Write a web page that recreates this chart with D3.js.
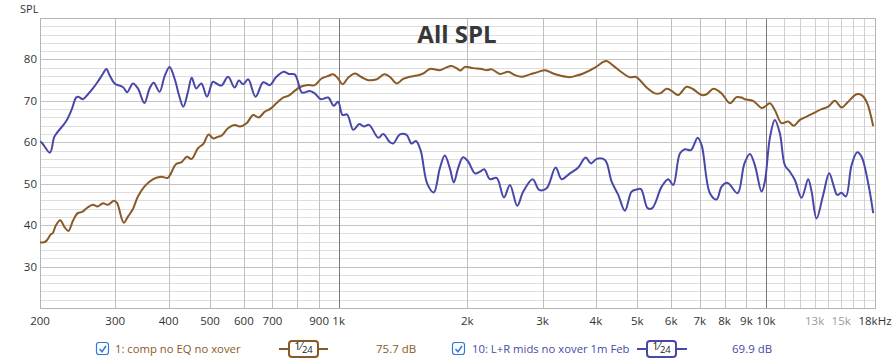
<!DOCTYPE html>
<html>
<head>
<meta charset="utf-8">
<script src="https://cdn.jsdelivr.net/npm/d3@7/dist/d3.min.js"></script>
<style>
  html, body { margin: 0; padding: 0; background: #fff; }
  svg { display: block; font-family: "Open Sans", "Noto Sans", sans-serif; }
</style>
</head>
<body>
<svg id="chart" width="894" height="360"></svg>
<script>
// ---- data ----
const title = "All SPL";
const yLabel = "SPL";
const yTicks = [30, 40, 50, 60, 70, 80];
const xTickValues = [200, 300, 400, 500, 600, 700, 900, 1000, 2000, 3000, 4000, 5000, 6000, 7000, 8000, 9000, 10000, 13000, 15000, 18000];
const xTickLabels = ["200", "300", "400", "500", "600", "700", "900", "1k", "2k", "3k", "4k", "5k", "6k", "7k", "8k", "9k", "10k", "13k", "15k", "18kHz"];
const xTickDim = [13000, 15000];
const xGrid = [300, 400, 500, 600, 700, 800, 900, 1000, 2000, 3000, 4000, 5000, 6000, 7000, 8000, 9000, 10000, 11000, 12000, 13000, 14000, 15000, 16000, 17000];
const xGridDark = [1000, 10000];

const seriesNames = ["1: comp no EQ no xover", "10: L+R mids no xover 1m Feb"];
const seriesValues = ["75.7 dB", "69.9 dB"];
const seriesColors = ["#8a5a26", "#4848a8"];

const freqComp = [200, 203, 207, 212, 214, 218, 223, 228, 233, 239, 245, 251, 258, 266, 273, 281, 288, 298, 303, 314, 321, 330, 339, 351, 368, 384, 398, 405, 416, 429, 441, 453, 468, 483, 496, 509, 521, 532, 551, 571, 587, 609, 631, 650, 672, 690, 715, 741, 762, 789, 815, 848, 879, 912, 945, 970, 997, 1021, 1053, 1092, 1132, 1173, 1228, 1279, 1318, 1367, 1416, 1468, 1522, 1577, 1635, 1725, 1772, 1837, 1887, 1928, 1975, 2065, 2161, 2220, 2281, 2385, 2494, 2586, 2681, 2804, 2932, 3040, 3179, 3296, 3478, 3606, 3736, 3979, 4161, 4238, 4392, 4595, 4805, 4955, 5071, 5257, 5498, 5649, 5856, 6016, 6233, 6523, 6759, 7072, 7265, 7528, 7877, 8237, 8536, 8769, 8927, 9335, 9767, 9942, 10213, 10492, 10878, 11272, 11623, 12008, 12449, 12900, 13498, 13987, 14501, 15034, 15579, 16300, 16745, 17203, 17826];
const splComp = [35.9, 35.8, 36.2, 37.8, 38.0, 40.0, 41.2, 39.6, 38.6, 41.1, 42.9, 43.2, 44.2, 44.9, 44.5, 45.3, 44.9, 45.9, 45.3, 40.6, 42.0, 43.9, 46.9, 49.3, 51.1, 51.7, 51.4, 52.5, 54.7, 55.2, 56.5, 56.0, 58.5, 59.7, 61.9, 60.9, 61.3, 61.6, 63.4, 64.2, 63.8, 64.6, 66.6, 66.0, 67.4, 68.0, 69.4, 70.8, 71.2, 72.4, 73.4, 73.8, 73.8, 75.4, 76.0, 76.4, 75.4, 74.0, 75.6, 76.6, 75.7, 75.0, 75.2, 76.4, 75.8, 74.2, 75.3, 75.8, 76.1, 76.6, 77.7, 77.4, 77.9, 78.4, 77.9, 77.3, 78.2, 77.9, 77.7, 77.4, 77.6, 76.5, 77.0, 76.2, 75.8, 76.4, 77.0, 77.4, 76.6, 76.1, 75.7, 76.1, 76.6, 78.0, 79.4, 79.6, 78.5, 76.9, 75.7, 75.8, 75.0, 73.2, 71.8, 71.8, 72.9, 72.4, 71.4, 73.4, 72.8, 71.4, 71.6, 72.9, 71.8, 69.4, 70.9, 70.8, 70.4, 70.0, 68.3, 68.6, 69.4, 67.8, 64.6, 65.0, 64.0, 65.4, 66.2, 67.0, 68.0, 68.6, 70.0, 68.4, 69.8, 71.6, 71.4, 69.8, 63.9];

const freqMids = [200, 202, 211, 216, 220, 230, 237, 243, 246, 252, 259, 266, 273, 281, 286, 291, 299, 313, 320, 330, 339, 351, 361, 369, 381, 391, 402, 413, 424, 433, 444, 453, 464, 477, 492, 508, 521, 532, 551, 571, 584, 598, 614, 639, 666, 690, 715, 744, 764, 789, 801, 821, 856, 879, 908, 945, 974, 997, 1021, 1047, 1082, 1117, 1146, 1178, 1238, 1272, 1318, 1342, 1391, 1442, 1481, 1516, 1555, 1611, 1670, 1725, 1772, 1821, 1860, 1903, 1955, 2011, 2084, 2141, 2191, 2260, 2343, 2437, 2517, 2618, 2704, 2845, 2948, 3068, 3220, 3326, 3478, 3637, 3785, 3894, 4016, 4200, 4354, 4512, 4678, 4849, 4982, 5099, 5286, 5419, 5701, 5907, 6068, 6290, 6463, 6676, 6921, 7072, 7395, 7667, 7877, 8136, 8582, 8900, 9171, 9421, 9767, 9942, 10213, 10492, 10779, 11073, 11376, 11686, 12119, 12557, 12789, 13139, 13614, 14063, 14423, 14682, 15034, 15387, 15866, 16353, 16745, 17352, 17826];
const splMids = [60.2, 59.9, 57.5, 61.3, 62.5, 65.0, 67.8, 70.8, 71.0, 70.4, 71.6, 73.0, 74.6, 76.6, 77.7, 76.2, 74.2, 73.3, 72.1, 74.2, 73.0, 69.5, 73.0, 74.4, 72.2, 75.8, 78.2, 75.4, 71.0, 68.6, 72.2, 75.6, 73.0, 74.2, 71.0, 74.6, 74.0, 73.7, 75.8, 73.2, 74.9, 74.0, 75.2, 71.0, 74.5, 73.8, 75.8, 77.0, 76.5, 76.4, 75.0, 72.0, 72.4, 71.8, 70.4, 70.8, 68.8, 69.8, 66.6, 66.7, 63.0, 64.4, 63.8, 64.2, 61.1, 62.0, 60.0, 59.7, 61.9, 61.8, 59.7, 60.3, 58.1, 50.1, 47.9, 53.7, 56.8, 53.7, 50.3, 53.7, 56.4, 55.3, 52.5, 52.9, 53.5, 51.1, 51.4, 46.7, 49.7, 44.7, 48.1, 51.1, 48.5, 48.9, 53.9, 51.1, 52.5, 53.9, 56.3, 54.9, 56.0, 55.7, 50.5, 47.3, 43.5, 48.1, 48.6, 48.7, 44.1, 44.1, 49.3, 51.1, 49.7, 57.3, 58.3, 58.1, 61.1, 59.3, 47.7, 46.2, 49.3, 50.2, 47.7, 54.8, 57.2, 54.5, 48.1, 50.5, 61.0, 65.4, 62.2, 54.5, 52.9, 50.9, 46.6, 51.1, 48.1, 41.6, 47.3, 52.5, 49.3, 47.3, 47.8, 46.9, 54.5, 57.6, 56.5, 50.1, 42.9];

const seriesData = [
  freqComp.map((f, i) => ({ f, v: splComp[i] })),
  freqMids.map((f, i) => ({ f, v: splMids[i] }))
];

// ---- layout ----
const svg = d3.select("#chart");
const pLeft = 40, pRight = 875, pTop = 18, pBottom = 308;
const x = d3.scaleLog().domain([200, 18000]).range([pLeft, pRight]);
const y = d3.scaleLinear().domain([20, 90]).range([pBottom, pTop]);

// horizontal grid
const hGrid = d3.range(20, 91, 2);
svg.append("g").selectAll("line").data(hGrid).join("line")
  .attr("x1", pLeft).attr("x2", pRight)
  .attr("y1", d => Math.round(y(d)) + 0.5).attr("y2", d => Math.round(y(d)) + 0.5)
  .attr("stroke", d => d % 10 === 0 ? "#c4c4c4" : "#dedede")
  .attr("stroke-width", 1);

// vertical grid
svg.append("g").selectAll("line").data(xGrid).join("line")
  .attr("x1", d => Math.round(x(d)) + 0.5).attr("x2", d => Math.round(x(d)) + 0.5)
  .attr("y1", pTop).attr("y2", pBottom)
  .attr("stroke", d => xGridDark.includes(d) ? "#7a7a7a" : (d > 10000 ? "#d0d0d0" : "#c0c0c0"))
  .attr("stroke-width", 1);

// frame
svg.append("rect")
  .attr("x", pLeft + 0.5).attr("y", pTop + 0.5)
  .attr("width", pRight - pLeft).attr("height", pBottom - pTop)
  .attr("fill", "none").attr("stroke", "#b4b4b4");

// y axis labels
svg.append("g").selectAll("text").data(yTicks).join("text")
  .attr("x", 37).attr("y", d => y(d))
  .attr("dy", "0.35em").attr("text-anchor", "end")
  .attr("font-size", 11.5).attr("fill", "#333")
  .text(d => d);

svg.append("text").attr("x", 20).attr("y", 12.5)
  .attr("font-size", 11).attr("fill", "#333").text(yLabel);

// x axis labels
svg.append("g").selectAll("text").data(xTickValues).join("text")
  .attr("x", d => x(d)).attr("y", 321)
  .attr("dy", "0.35em").attr("text-anchor", "middle")
  .attr("font-size", 11.5)
  .attr("fill", d => xTickDim.includes(d) ? "#9a9a9a" : "#333")
  .text((d, i) => xTickLabels[i]);

// title
svg.append("text").attr("x", 457).attr("y", 42.5)
  .attr("text-anchor", "middle").attr("font-size", 24).attr("font-weight", "bold")
  .attr("fill", "#383838").text(title);

// series lines
const line = d3.line().x(d => x(d.f)).y(d => y(d.v)).curve(d3.curveCatmullRom.alpha(0.5));
svg.append("defs").append("clipPath").attr("id", "plotclip")
  .append("rect").attr("x", pLeft).attr("y", pTop).attr("width", pRight - pLeft).attr("height", pBottom - pTop);
const lines = svg.append("g").attr("clip-path", "url(#plotclip)");
seriesData.forEach((data, i) => {
  lines.append("path").datum(data)
    .attr("d", line).attr("fill", "none")
    .attr("stroke", seriesColors[i]).attr("stroke-width", 2)
    .attr("stroke-linejoin", "round");
});

// legend
const legendX = [96, 452];
const legendCfg = [
  { text: 115, lineA: 279, lineB: 328, box: 289, boxW: 29, val: 376 },
  { text: 472, lineA: 637, lineB: 687, box: 647, boxW: 29, val: 732 }
];
const ly = 349;
seriesNames.forEach((name, i) => {
  const g = svg.append("g");
  const c = legendCfg[i];
  const cx = legendX[i];
  g.append("rect").attr("x", cx + 0.5).attr("y", ly - 6.5).attr("width", 12).attr("height", 12)
    .attr("rx", 2.5).attr("fill", "#fff").attr("stroke", "#2f7ad6").attr("stroke-width", 1.2);
  g.append("path").attr("d", `M${cx + 3.5},${ly} L${cx + 6},${ly + 2.8} L${cx + 10},${ly - 3}`)
    .attr("fill", "none").attr("stroke", "#2f7ad6").attr("stroke-width", 1.5);
  g.append("text").attr("x", c.text).attr("y", ly).attr("dy", "0.35em")
    .attr("font-size", 11.3).attr("fill", seriesColors[i]).text(name);
  g.append("line").attr("x1", c.lineA).attr("x2", c.lineB).attr("y1", ly).attr("y2", ly)
    .attr("stroke", seriesColors[i]).attr("stroke-width", 2);
  g.append("rect").attr("x", c.box).attr("y", ly - 8).attr("width", c.boxW).attr("height", 16)
    .attr("rx", 3).attr("fill", "#fff").attr("stroke", seriesColors[i]).attr("stroke-width", 2);
  const t = g.append("text").attr("x", c.box + c.boxW / 2).attr("y", ly + 4)
    .attr("text-anchor", "middle").attr("font-size", 11).attr("fill", "#222");
  t.append("tspan").attr("dy", "-3").attr("font-size", 11).text("1");
  t.append("tspan").attr("dy", "0").text("\u2044");
  t.append("tspan").attr("dy", "3").attr("font-size", 9.5).text("24");
  g.append("text").attr("x", c.val).attr("y", ly).attr("dy", "0.35em")
    .attr("font-size", 11.5).attr("fill", seriesColors[i]).text(seriesValues[i]);
});
</script>
</body>
</html>
